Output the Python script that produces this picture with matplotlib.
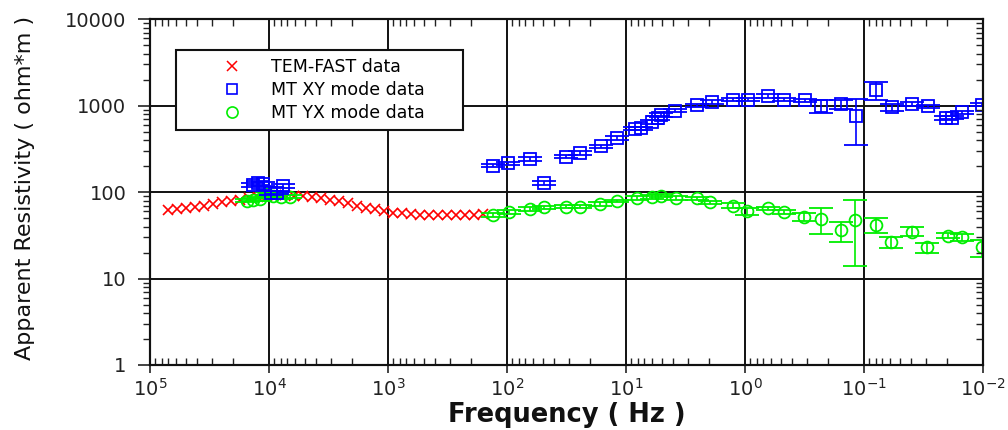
import numpy as np
import matplotlib
matplotlib.use("Agg")
import matplotlib.pyplot as plt
from matplotlib.lines import Line2D
from matplotlib.ticker import LogLocator, FixedLocator, FuncFormatter, NullFormatter

plt.rcParams["font.family"] = ["DejaVu Sans"]
plt.rcParams["mathtext.fontset"] = "dejavusans"

# TEM-FAST sounding (transformed to equivalent frequency)
tem_freq = [70600, 59300, 49800, 41900, 35200, 29600, 24800, 20900, 17500,
            14700, 12400, 10400, 8730, 7340, 6170, 5180, 4350, 3660, 3070,
            2580, 2170, 1820, 1530, 1290, 1080, 908, 763, 641, 538, 452,
            380, 319, 268, 226, 189, 159]
tem_rho = [62, 64, 66, 68, 70, 73, 76, 79, 82, 85, 88, 90, 92, 92, 91, 90,
           88, 85, 82, 78, 74, 70, 66, 63, 60, 58, 57, 56, 55, 55, 54, 54,
           54, 55, 55, 56]

# MT XY mode
xy_freq = [13600, 12400, 11200, 9700, 8600, 7600, 131, 98.1, 64.1, 48.9,
           31.9, 24.4, 16.2, 11.9, 8.40, 7.48, 6.05, 5.39, 5.08, 3.87, 2.53,
           1.89, 1.26, 0.944, 0.641, 0.470, 0.313, 0.230, 0.156, 0.117,
           0.0792, 0.0582, 0.0395, 0.0290, 0.0205, 0.0182, 0.0150, 0.0102]
xy_rho = [122, 127, 124, 98, 99, 117, 203, 216, 241, 128, 258, 283, 338,
          423, 545, 548, 650, 720, 790, 880, 1010, 1110, 1175, 1175, 1300,
          1175, 1150, 1000, 1035, 768, 1530, 968, 1045, 985, 725, 728, 840,
          1030]
xy_err = [6, 6, 6, 5, 5, 6, 10, 10, 12, 6, 12, 14, 16, 20, 25, 25, 30, 35,
          40, 40, 45, 50, 50, 50, 60, 50, 60, 170, 120, 420, 360, 90, 50, 45,
          35, 35, 40, 50]

# MT YX mode
yx_freq = [15300, 13600, 12000, 10400, 9250, 8000, 6700, 131, 96.2, 64.1,
           48.9, 31.9, 24.4, 16.5, 11.9, 8.08, 6.05, 5.08, 3.80, 2.53, 1.97,
           1.26, 0.962, 0.641, 0.470, 0.319, 0.230, 0.156, 0.119, 0.0792,
           0.0593, 0.0395, 0.0296, 0.0197, 0.0150, 0.0102]
yx_rho = [80, 82, 84, 96, 90, 88, 89, 55, 59, 64, 67, 68, 68, 73, 79, 86,
          88, 91, 86, 85, 76, 70, 60, 65, 59, 52, 49, 36, 48, 42, 26.5, 35,
          23, 31.5, 30, 23]
yx_err = [4, 4, 4, 5, 4, 4, 4, 3, 3, 3, 3, 3, 3, 3, 3, 4, 4, 4, 4, 3, 4, 4,
          5, 3, 3, 6, 16, 9.5, 34, 8, 4, 4, 3, 2, 3, 5]

x_exponents = [5, 4, 3, 2, 1, 0, -1, -2]
y_ticks = [1, 10, 100, 1000, 10000]
y_tick_labels = ["1", "10", "100", "1000", "10000"]

fig = plt.figure(figsize=(10.08, 4.30), dpi=100)
ax = fig.add_axes([150 / 1008, 1 - 365 / 430, 833 / 1008, 345.7 / 430])

ax.set_xscale("log")
ax.set_yscale("log")
ax.set_xlim(10.0 ** x_exponents[0], 10.0 ** x_exponents[-1])
ax.set_ylim(y_ticks[0], y_ticks[-1])

red, blue, green = "#ff0000", "#0000ff", "#00ee00"

ax.plot(tem_freq, tem_rho, ls="none", marker="x", ms=7, mew=1.2,
        color=red, zorder=3)
ax.errorbar(yx_freq, yx_rho, yerr=yx_err, fmt="o", ms=8.5, mfc="none",
            mec=green, mew=1.3, ecolor=green, elinewidth=1.2, capsize=8.5,
            capthick=1.2, zorder=4)
ax.errorbar(xy_freq, xy_rho, yerr=xy_err, fmt="s", ms=8, mfc="none",
            mec=blue, mew=1.3, ecolor=blue, elinewidth=1.2, capsize=8.5,
            capthick=1.2, zorder=5)

# ticks and grid
ax.xaxis.set_major_locator(FixedLocator([10.0 ** e for e in x_exponents]))
ax.xaxis.set_major_formatter(FuncFormatter(
    lambda v, pos: r"$\mathregular{10^{%d}}$" % int(round(np.log10(v)))))
ax.xaxis.set_minor_locator(LogLocator(base=10, subs=np.arange(2, 10), numticks=50))
ax.xaxis.set_minor_formatter(NullFormatter())
ax.yaxis.set_major_locator(FixedLocator(y_ticks))
ax.yaxis.set_major_formatter(FuncFormatter(
    lambda v, pos: y_tick_labels[y_ticks.index(int(round(v)))]))
ax.yaxis.set_minor_locator(LogLocator(base=10, subs=np.arange(2, 10), numticks=50))
ax.yaxis.set_minor_formatter(NullFormatter())

ax.tick_params(axis="x", which="major", direction="out", length=6, width=1.2,
               pad=3, labelsize=14, colors="#222222", top=False)
ax.tick_params(axis="x", which="minor", direction="in", length=5, width=1.0,
               top=True, bottom=True, colors="#222222")
ax.tick_params(axis="y", which="major", direction="out", length=9, width=1.2,
               pad=8, labelsize=14, colors="#222222", right=False)
ax.tick_params(axis="y", which="minor", direction="out", length=5, width=1.0,
               right=False, colors="#222222")

ax2 = ax.twinx()
ax2.set_yscale("log")
ax2.set_ylim(ax.get_ylim())
ax2.yaxis.set_major_locator(FixedLocator(y_ticks))
ax2.yaxis.set_minor_locator(LogLocator(base=10, subs=np.arange(2, 10), numticks=50))
ax2.yaxis.set_minor_formatter(NullFormatter())
ax2.tick_params(axis="y", which="both", direction="in", labelright=False,
                colors="#222222")
ax2.tick_params(axis="y", which="major", length=0)
ax2.tick_params(axis="y", which="minor", length=5, width=1.0)

ax.grid(which="major", color="#111111", lw=1.4)
ax.set_axisbelow(True)
for a in (ax, ax2):
    for s in a.spines.values():
        s.set_linewidth(1.5)
        s.set_color("#111111")

ax.set_xlabel("Frequency ( Hz )", fontsize=18.5, fontweight="bold",
              color="#111111", labelpad=2)
fig.text(25 / 1008, 1 - 187.5 / 430, "Apparent Resistivity ( ohm*m )",
         rotation=90, ha="center", va="center", fontsize=16, color="#111111")

handles = [
    Line2D([], [], ls="none", marker="x", ms=7.5, mew=1.1, color=red),
    Line2D([], [], ls="none", marker="s", ms=7, mew=1.2, mfc="none", mec=blue),
    Line2D([], [], ls="none", marker="o", ms=8, mew=1.2, mfc="none", mec=green),
]
labels = ["TEM-FAST data", "MT XY mode data", "MT YX mode data"]
leg_x0, leg_w = 26 / 833, 287 / 833
leg_y1 = 1 - 31 / 345.7
leg = ax2.legend(handles, labels, loc="upper left",
                 bbox_to_anchor=(leg_x0, leg_y1 - 0.25, leg_w, 0.25),
                 mode="expand", borderaxespad=0, fontsize=12.5, numpoints=1,
                 handlelength=5.6, handletextpad=-0.6, borderpad=0.45,
                 labelspacing=0.28, fancybox=False, framealpha=1,
                 edgecolor="#111111")
leg.get_frame().set_linewidth(1.5)
leg.set_zorder(10)

fig.savefig("out.png", dpi=100)
